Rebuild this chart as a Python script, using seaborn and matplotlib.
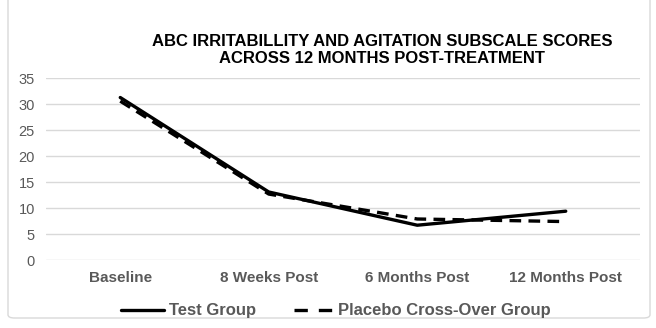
import matplotlib
matplotlib.use("Agg")
import matplotlib.pyplot as plt
import seaborn as sns
import pandas as pd
from matplotlib.patches import FancyBboxPatch
from matplotlib.lines import Line2D

categories = ["Baseline", "8 Weeks Post", "6 Months Post", "12 Months Post"]
test_group = [31.3, 13.1, 6.7, 9.4]
placebo_group = [30.6, 12.7, 7.9, 7.4]
series_names = ["Test Group", "Placebo Cross-Over Group"]
yticks = [0, 5, 10, 15, 20, 25, 30, 35]
title = "ABC IRRITABILLITY AND AGITATION SUBSCALE SCORES\nACROSS 12 MONTHS POST-TREATMENT"

sns.set_theme(style="white")
plt.rcParams['font.family'] = ['Liberation Sans', 'DejaVu Sans']

df = pd.DataFrame({
    "x": list(range(len(categories))) * 2,
    "score": test_group + placebo_group,
    "group": [series_names[0]] * len(categories) + [series_names[1]] * len(categories),
})

fig = plt.figure(figsize=(6.56, 3.28), dpi=100)
ax = fig.add_axes([46/656, 68/328, 594/656, (260-78.3)/328])

# chart border
border = FancyBboxPatch((8/656, 10/328), 642/656, 330/328,
                        boxstyle="round,pad=0,rounding_size=0.01",
                        transform=fig.transFigure, facecolor="none",
                        edgecolor="#d9d9d9", linewidth=1.0, clip_on=False)
fig.patches.append(border)

sns.lineplot(data=df, x="x", y="score", hue="group", style="group",
             palette={series_names[0]: "black", series_names[1]: "black"},
             dashes={series_names[0]: "", series_names[1]: (3.5, 2.2)},
             linewidth=2.4, ax=ax, legend=False)

ax.set_xlim(-0.5, len(categories) - 0.5)
ax.set_ylim(0, 35)
ax.set_yticks(yticks)
ax.set_yticklabels([str(v) for v in yticks], color="#595959", fontsize=10.5)
ax.set_xticks(range(len(categories)))
ax.set_xticklabels(categories, color="#595959", fontsize=11, fontweight="bold")
ax.tick_params(axis="y", length=0, pad=8)
ax.tick_params(axis="x", length=0, pad=8)
ax.set_xlabel("")
ax.set_ylabel("")
ax.grid(axis="y", color="#d9d9d9", linewidth=1.0)
ax.set_axisbelow(True)
for s in ax.spines.values():
    s.set_visible(False)

fig.text(382/656, 1 - 50/328, title, ha="center", va="center",
         fontsize=12, fontweight="bold", color="black", linespacing=1.2)

handles = [Line2D([], [], color="black", lw=2.4),
           Line2D([], [], color="black", lw=2.4, linestyle=(6.1, (4, 3.3)))]
leg = fig.legend(handles, series_names, loc="center", bbox_to_anchor=(336/656, 1 - 311/328),
                 ncol=2, frameon=False, handlelength=2.6, handletextpad=0.3,
                 columnspacing=2.0, prop={"size": 12, "weight": "bold"})
for t in leg.get_texts():
    t.set_color("#595959")

fig.savefig("out.png", dpi=100)
